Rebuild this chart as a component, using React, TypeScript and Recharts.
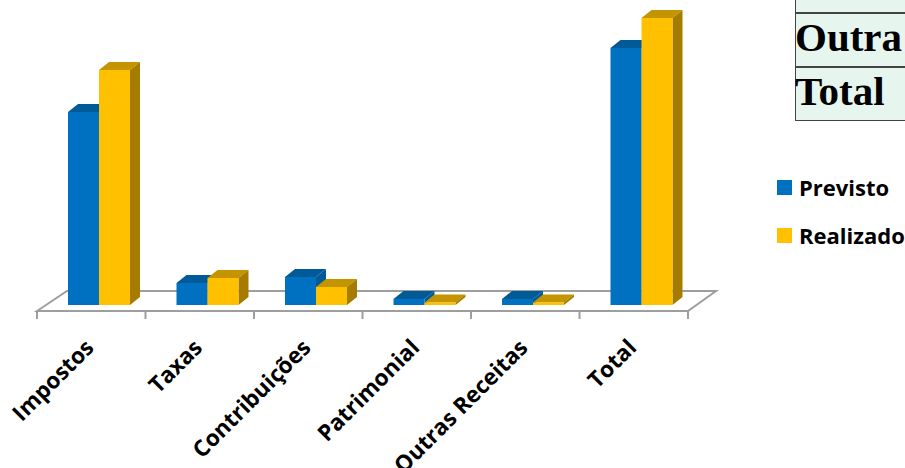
import { Bar, BarChart, Legend, XAxis, YAxis, usePlotArea } from "recharts";

const categories = ["Impostos", "Taxas", "Contribuições", "Patrimonial", "Outras Receitas", "Total"];
const previsto = [193, 22, 28, 6, 6, 257];
const realizado = [235, 27, 18, 2.5, 2.5, 287];
const tableRows = ["Outra", "Total"];

const chartData = categories.map((name, i) => ({
  name,
  previsto: previsto[i],
  realizado: realizado[i],
}));

const DEPTH_X = 10;
const DEPTH_Y = 8;
const BAR_SHIFT = 8; // bars sit a bit right of the band centre, like the 3d floor
const FLOOR_DROP = 6;
const labelFont = "'Open Sans', sans-serif";

// box with top and side faces
const Bar3D = (props: any) => {
  const { x, y, width, height, fill, topFill, sideFill } = props;
  const l = x + BAR_SHIFT;
  const r = l + width;
  const b = y + height;
  return (
    <g>
      <polygon
        points={`${l},${y} ${l + DEPTH_X},${y - DEPTH_Y} ${r + DEPTH_X},${y - DEPTH_Y} ${r},${y}`}
        fill={topFill}
      />
      <polygon
        points={`${r},${y} ${r + DEPTH_X},${y - DEPTH_Y} ${r + DEPTH_X},${b - DEPTH_Y} ${r},${b}`}
        fill={sideFill}
      />
      <rect x={l} y={y} width={width} height={height} fill={fill} />
    </g>
  );
};

// floor parallelogram and tick marks under the bars
const Floor = () => {
  const plot = usePlotArea();
  if (!plot) return null;
  const left = plot.x;
  const right = plot.x + plot.width;
  const front = plot.y + plot.height + FLOOR_DROP;
  const back = front - 20;
  const step = plot.width / categories.length;
  return (
    <g stroke="#9e9e9e" strokeWidth={2} fill="none">
      <polygon points={`${left},${front} ${left + 30},${back} ${right + 28},${back} ${right},${front}`} />
      {[...categories, ""].map((_, i) => (
        <line key={i} x1={left + step * i} x2={left + step * i} y1={front} y2={front + 8} />
      ))}
    </g>
  );
};

const CategoryTick = ({ x, y, payload }: any) => (
  <text
    x={x + 4}
    y={y + 36}
    transform={`rotate(-45 ${x + 4} ${y + 36})`}
    textAnchor="end"
    fontFamily={labelFont}
    fontWeight={700}
    fontSize={22.5}
    fill="#000"
  >
    {payload.value}
  </text>
);

const LegendBox = ({ payload }: any) => (
  <div>
    {(payload || []).map((entry: any) => (
      <div key={entry.value} style={{ display: "flex", alignItems: "center", height: 48 }}>
        <div style={{ width: 15, height: 15, background: entry.color, marginRight: 7 }} />
        <span style={{ fontFamily: labelFont, fontWeight: 700, fontSize: 22, color: "#000", whiteSpace: "nowrap" }}>
          {entry.value}
        </span>
      </div>
    ))}
  </div>
);

const App = () => {
  return (
    <div
      style={{
        position: "absolute",
        left: 0,
        top: 0,
        width: 905,
        height: 468,
        overflow: "hidden",
        background: "#fff",
      }}
    >
      <BarChart
        width={905}
        height={468}
        data={chartData}
        margin={{ top: 5, right: 89, bottom: 0, left: 37 }}
        barSize={31}
        barGap={0}
      >
        <XAxis
          dataKey="name"
          axisLine={false}
          tickLine={false}
          height={163}
          interval={0}
          tick={<CategoryTick />}
        />
        <YAxis hide domain={[0, 300]} />
        <Floor />
        <Legend
          layout="vertical"
          align="right"
          verticalAlign="top"
          width={128}
          content={<LegendBox />}
          wrapperStyle={{ position: "absolute", left: 777, top: 163, width: 128, bottom: "auto", right: "auto" }}
        />
        <Bar
          dataKey="previsto"
          name="Previsto"
          fill="#0070c0"
          isAnimationActive={false}
          shape={<Bar3D topFill="#005a98" sideFill="#005a98" />}
        />
        <Bar
          dataKey="realizado"
          name="Realizado"
          fill="#ffc000"
          isAnimationActive={false}
          shape={<Bar3D topFill="#c49500" sideFill="#a67c00" />}
        />
      </BarChart>

      <div style={{ position: "absolute", left: 795, top: -43, width: 130, background: "#e6f5ee", border: "1.5px solid #444" }}>
        <div style={{ height: 54, borderBottom: "2px solid #444" }} />
        {tableRows.map((row, i) => (
          <div
            key={row}
            style={{
              height: 52,
              lineHeight: "46px",
              marginLeft: -1,
              borderBottom: i === 0 ? "2px solid #444" : "none",
              fontFamily: "'Liberation Serif', serif",
              fontWeight: 700,
              fontSize: 41,
              color: "#000",
              whiteSpace: "nowrap",
            }}
          >
            {row}
          </div>
        ))}
      </div>
    </div>
  );
};

export default App;
